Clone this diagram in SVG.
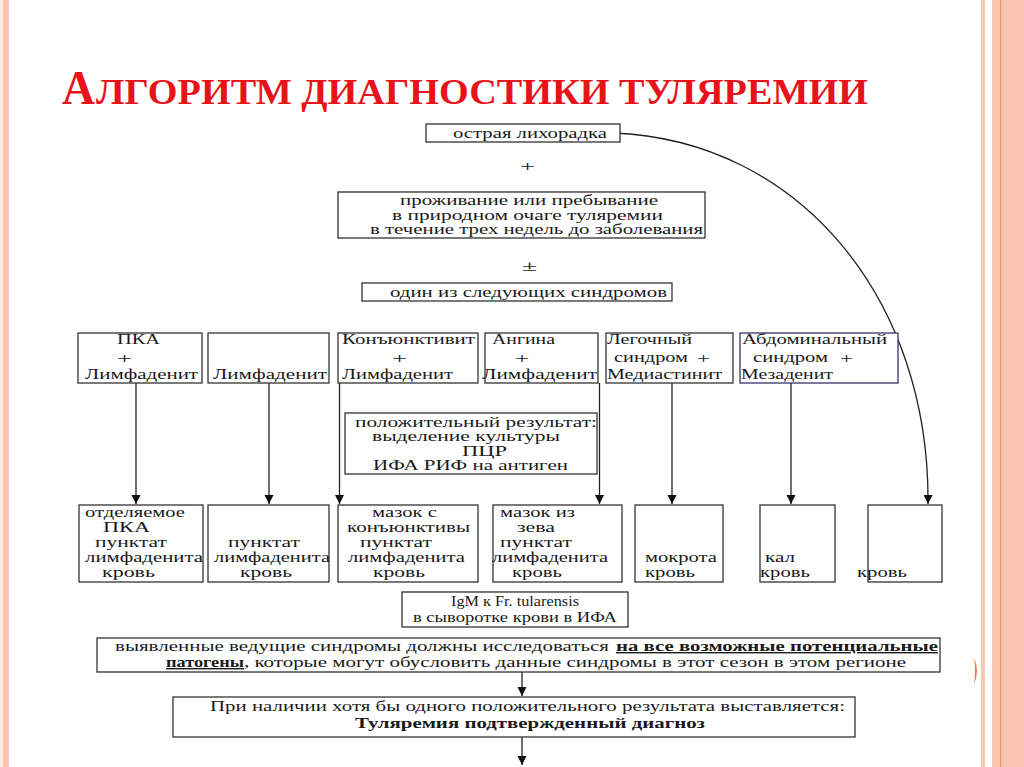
<svg xmlns="http://www.w3.org/2000/svg" width="1024" height="767" viewBox="0 0 1024 767">
<style>
.t{font-family:"Liberation Serif","Times New Roman",serif;fill:#1a1a1a;font-size:15px}
.s{font-size:14px}
.b{font-weight:bold}
.u{text-decoration:underline}
.box{fill:#fff;stroke:#333;stroke-width:1.3}
.con{fill:none;stroke:#222;stroke-width:1.3}
.title{font-family:"Liberation Serif","Times New Roman",serif;font-weight:bold;fill:#e8121a}
</style>
<defs>
<marker id="ah" markerUnits="userSpaceOnUse" markerWidth="10" markerHeight="10" refX="9" refY="5" orient="auto">
<path d="M0,0.5 L9,5 L0,9.5 z" fill="#111"/>
</marker>
</defs>
<rect x="0" y="0" width="1024" height="767" fill="#fff"/>
<!-- slide decoration -->
<rect x="0" y="0" width="3" height="767" fill="#fdeae2"/>
<rect x="3" y="0" width="6" height="767" fill="#fbc6b1"/>
<rect x="981" y="0" width="4" height="767" fill="#f9c7b2"/>
<rect x="992" y="0" width="32" height="767" fill="#f9c5ae"/>
<rect x="1000" y="0" width="1.2" height="767" fill="#e8946a"/>
<path d="M974,658 Q980,671 974,684 Q976,671 974,658 z" fill="#ee7d33"/>

<g id="title">
<text class="title" x="62" y="104" font-size="48" textLength="33" lengthAdjust="spacingAndGlyphs">А</text>
<text class="title" x="96" y="104" font-size="36" textLength="772" lengthAdjust="spacingAndGlyphs">ЛГОРИТМ ДИАГНОСТИКИ ТУЛЯРЕМИИ</text>
</g>

<g id="connectors">
<path class="con" d="M613,133 C800,140 930,300 928,504" marker-end="url(#ah)"/>
<line class="con" x1="136" y1="383" x2="136" y2="504" marker-end="url(#ah)"/>
<line class="con" x1="269" y1="383" x2="269" y2="504" marker-end="url(#ah)"/>
<line class="con" x1="339.5" y1="383" x2="339.5" y2="504" marker-end="url(#ah)"/>
<line class="con" x1="599.5" y1="383" x2="599.5" y2="504" marker-end="url(#ah)"/>
<line class="con" x1="672" y1="383" x2="672" y2="504" marker-end="url(#ah)"/>
<line class="con" x1="791" y1="383" x2="791" y2="504" marker-end="url(#ah)"/>
<line class="con" x1="522" y1="672" x2="522" y2="696" marker-end="url(#ah)"/>
<line class="con" x1="522" y1="737" x2="522" y2="765" marker-end="url(#ah)"/>
</g>

<g id="fever">
<rect class="box" x="426" y="124" width="194" height="18"/>
<text class="t s" x="453" y="138" textLength="154" lengthAdjust="spacingAndGlyphs">острая лихорадка</text>
</g>
<text class="t" x="520" y="171" font-size="18" textLength="15" lengthAdjust="spacingAndGlyphs">+</text>

<g id="stay">
<rect class="box" x="338" y="192" width="367" height="46"/>
<text class="t s" x="400" y="205" textLength="258" lengthAdjust="spacingAndGlyphs">проживание или пребывание</text>
<text class="t s" x="392" y="220" textLength="271" lengthAdjust="spacingAndGlyphs">в природном очаге туляремии</text>
<text class="t s" x="370" y="234" textLength="333" lengthAdjust="spacingAndGlyphs">в течение трех недель до заболевания</text>
</g>
<text class="t" x="522" y="271" font-size="19" textLength="15" lengthAdjust="spacingAndGlyphs">±</text>

<g id="one-of">
<rect class="box" x="362" y="283" width="310" height="18"/>
<text class="t s" x="390" y="297" textLength="277" lengthAdjust="spacingAndGlyphs">один из следующих синдромов</text>
</g>

<g id="syn-pka">
<rect class="box" x="78" y="333" width="124" height="50"/>
<text class="t" x="117" y="344" textLength="43" lengthAdjust="spacingAndGlyphs">ПКА</text>
<text class="t" x="117" y="363" font-size="17" textLength="15" lengthAdjust="spacingAndGlyphs">+</text>
<text class="t" x="85" y="379" textLength="113" lengthAdjust="spacingAndGlyphs">Лимфаденит</text>
</g>
<g id="syn-lymph">
<rect class="box" x="208" y="333" width="121" height="50"/>
<text class="t" x="213" y="379" textLength="114" lengthAdjust="spacingAndGlyphs">Лимфаденит</text>
</g>
<g id="syn-conj">
<rect class="box" x="338" y="333" width="140" height="50"/>
<text class="t" x="342" y="344" textLength="133" lengthAdjust="spacingAndGlyphs">Конъюнктивит</text>
<text class="t" x="392" y="363" font-size="17" textLength="15" lengthAdjust="spacingAndGlyphs">+</text>
<text class="t" x="342" y="379" textLength="111" lengthAdjust="spacingAndGlyphs">Лимфаденит</text>
</g>
<g id="syn-angina">
<rect class="box" x="485" y="333" width="113" height="50"/>
<text class="t" x="492" y="344" textLength="63" lengthAdjust="spacingAndGlyphs">Ангина</text>
<text class="t" x="515" y="363" font-size="17" textLength="14" lengthAdjust="spacingAndGlyphs">+</text>
<text class="t" x="482" y="379" textLength="115" lengthAdjust="spacingAndGlyphs">Лимфаденит</text>
</g>
<g id="syn-lung">
<rect class="box" x="606" y="333" width="127" height="50"/>
<text class="t" x="607" y="344" textLength="85" lengthAdjust="spacingAndGlyphs">Легочный</text>
<text class="t" x="614" y="362" textLength="74" lengthAdjust="spacingAndGlyphs">синдром</text>
<text class="t" x="697" y="363" font-size="17" textLength="13" lengthAdjust="spacingAndGlyphs">+</text>
<text class="t" x="607" y="379" textLength="115" lengthAdjust="spacingAndGlyphs">Медиастинит</text>
</g>
<g id="syn-abd">
<rect class="box" x="740" y="333" width="158" height="50" style="stroke:#34346a"/>
<text class="t" x="742" y="344" textLength="145" lengthAdjust="spacingAndGlyphs">Абдоминальный</text>
<text class="t" x="753" y="362" textLength="75" lengthAdjust="spacingAndGlyphs">синдром</text>
<text class="t" x="840" y="363" font-size="17" textLength="13" lengthAdjust="spacingAndGlyphs">+</text>
<text class="t" x="741" y="379" textLength="92" lengthAdjust="spacingAndGlyphs">Мезаденит</text>
</g>

<g id="positive">
<rect class="box" x="345" y="413" width="252" height="61"/>
<text class="t s" x="355" y="427" textLength="242" lengthAdjust="spacingAndGlyphs">положительный результат:</text>
<text class="t s" x="372" y="441" textLength="188" lengthAdjust="spacingAndGlyphs">выделение культуры</text>
<text class="t" x="462" y="456" textLength="45" lengthAdjust="spacingAndGlyphs">ПЦР</text>
<text class="t" x="373" y="470" textLength="195" lengthAdjust="spacingAndGlyphs">ИФА РИФ на антиген</text>
</g>

<g id="sample-1">
<rect class="box" x="79" y="505" width="124" height="77"/>
<text class="t" x="85" y="517" textLength="100" lengthAdjust="spacingAndGlyphs">отделяемое</text>
<text class="t" x="103" y="532" textLength="47" lengthAdjust="spacingAndGlyphs">ПКА</text>
<text class="t" x="95" y="547" textLength="72" lengthAdjust="spacingAndGlyphs">пунктат</text>
<text class="t" x="85" y="562" textLength="118" lengthAdjust="spacingAndGlyphs">лимфаденита</text>
<text class="t" x="102" y="577" textLength="53" lengthAdjust="spacingAndGlyphs">кровь</text>
</g>
<g id="sample-2">
<rect class="box" x="208" y="505" width="121" height="77"/>
<text class="t" x="228" y="547" textLength="72" lengthAdjust="spacingAndGlyphs">пунктат</text>
<text class="t" x="214" y="562" textLength="116" lengthAdjust="spacingAndGlyphs">лимфаденита</text>
<text class="t" x="240" y="577" textLength="52" lengthAdjust="spacingAndGlyphs">кровь</text>
</g>
<g id="sample-3">
<rect class="box" x="338" y="505" width="140" height="77"/>
<text class="t" x="372" y="517" textLength="65" lengthAdjust="spacingAndGlyphs">мазок с</text>
<text class="t" x="347" y="532" textLength="123" lengthAdjust="spacingAndGlyphs">конъюнктивы</text>
<text class="t" x="360" y="547" textLength="72" lengthAdjust="spacingAndGlyphs">пунктат</text>
<text class="t" x="348" y="562" textLength="117" lengthAdjust="spacingAndGlyphs">лимфаденита</text>
<text class="t" x="373" y="577" textLength="52" lengthAdjust="spacingAndGlyphs">кровь</text>
</g>
<g id="sample-4">
<rect class="box" x="493" y="505" width="129" height="77"/>
<text class="t" x="500" y="517" textLength="75" lengthAdjust="spacingAndGlyphs">мазок из</text>
<text class="t" x="517" y="532" textLength="38" lengthAdjust="spacingAndGlyphs">зева</text>
<text class="t" x="500" y="547" textLength="72" lengthAdjust="spacingAndGlyphs">пунктат</text>
<text class="t" x="492" y="562" textLength="116" lengthAdjust="spacingAndGlyphs">лимфаденита</text>
<text class="t" x="512" y="577" textLength="50" lengthAdjust="spacingAndGlyphs">кровь</text>
</g>
<g id="sample-5">
<rect class="box" x="635" y="505" width="88" height="77"/>
<text class="t" x="645" y="562" textLength="72" lengthAdjust="spacingAndGlyphs">мокрота</text>
<text class="t" x="645" y="577" textLength="50" lengthAdjust="spacingAndGlyphs">кровь</text>
</g>
<g id="sample-6">
<rect class="box" x="760" y="505" width="75" height="77"/>
<text class="t" x="765" y="562" textLength="30" lengthAdjust="spacingAndGlyphs">кал</text>
<text class="t" x="760" y="577" textLength="50" lengthAdjust="spacingAndGlyphs">кровь</text>
</g>
<g id="sample-7">
<rect class="box" x="868" y="505" width="74" height="77"/>
<text class="t" x="857" y="577" textLength="50" lengthAdjust="spacingAndGlyphs">кровь</text>
</g>

<g id="igm">
<rect class="box" x="402" y="592" width="226" height="35"/>
<text class="t s" x="515" y="606" text-anchor="middle" textLength="128" lengthAdjust="spacingAndGlyphs">IgM к Fr. tularensis</text>
<text class="t s" x="515" y="622" text-anchor="middle" textLength="204" lengthAdjust="spacingAndGlyphs">в сыворотке крови в ИФА</text>
</g>

<g id="investigate">
<rect class="box" x="97" y="638" width="843" height="34"/>
<text class="t s" x="115" y="651" textLength="494" lengthAdjust="spacingAndGlyphs">выявленные ведущие синдромы должны исследоваться</text>
<text class="t s b u" x="616" y="651" textLength="322" lengthAdjust="spacingAndGlyphs">на все возможные потенциальные</text>
<text class="t s b u" x="166" y="667" textLength="78" lengthAdjust="spacingAndGlyphs">патогены</text>
<text class="t s" x="244" y="667" textLength="662" lengthAdjust="spacingAndGlyphs">, которые могут обусловить данные синдромы в этот сезон в этом регионе</text>
</g>

<g id="confirmed">
<rect class="box" x="173" y="697" width="682" height="40"/>
<text class="t s" x="210" y="711" textLength="635" lengthAdjust="spacingAndGlyphs">При наличии хотя бы одного положительного результата выставляется:</text>
<text class="t s b" x="355" y="728" textLength="350" lengthAdjust="spacingAndGlyphs">Туляремия подтвержденный диагноз</text>
</g>
</svg>
